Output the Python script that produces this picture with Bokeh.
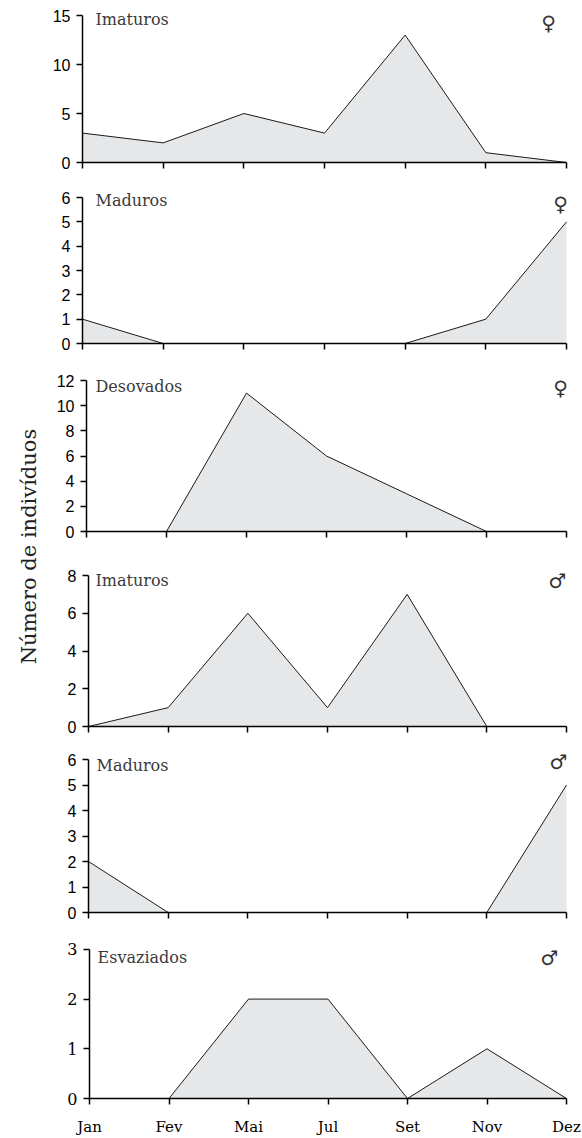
import math
from bokeh.plotting import figure
from bokeh.layouts import column, row
from bokeh.models import Range1d, FixedTicker, Label, Spacer
from bokeh.embed import file_html
from bokeh.resources import INLINE

# ---- data ----
months = ["Jan", "Fev", "Mai", "Jul", "Set", "Nov", "Dez"]
femea_imaturos = [3, 2, 5, 3, 13, 1, 0]
femea_maduros = [1, 0, 0, 0, 0, 1, 5]
femea_desovados = [0, 0, 11, 6, 3, 0, 0]
macho_imaturos = [0, 1, 6, 1, 7, 0, 0]
macho_maduros = [2, 0, 0, 0, 0, 0, 5]
macho_esvaziados = [0, 0, 2, 2, 0, 1, 0]

panel_titles = ["Imaturos", "Maduros", "Desovados", "Imaturos", "Maduros", "Esvaziados"]
panel_symbols = ["\u2640", "\u2640", "\u2640", "\u2642", "\u2642", "\u2642"]
panel_series = [femea_imaturos, femea_maduros, femea_desovados,
                macho_imaturos, macho_maduros, macho_esvaziados]
y_max = [15, 6, 12, 8, 6, 3]
y_ticks = [[0, 5, 10, 15], [0, 1, 2, 3, 4, 5, 6], [0, 2, 4, 6, 8, 10, 12],
           [0, 2, 4, 6, 8], [0, 1, 2, 3, 4, 5, 6], [0, 1, 2, 3]]
y_label = "Número de indivíduos"

# ---- layout (pixels) ----
WIN_W, WIN_H = 582, 1138
LW = 40                      # width of the strip holding the shared y label
BL = 42                      # common left border inside each panel
fig_top = [0, 178, 360, 555, 742, 930]
fig_bot = [178, 360, 555, 742, 930, 1138]
T = [15, 197, 380, 575, 759, 949]      # pixel of y max
B = [162, 343, 531, 726, 912, 1099]    # pixel of y = 0
L = [82, 82, 86, 88, 88, 89]           # pixel of first month
R = 566                                # pixel of last month
title_px = [(95, 19), (95, 200), (95, 386), (95, 580), (96, 765), (97, 957)]
sym_px = [(548, 22), (560, 203), (560, 387), (557, 580), (558, 761), (549, 958)]

FILL = "#e6e7e8"
SERIF = "DejaVu Serif"
SANS = "Liberation Sans"

x_idx = list(range(len(months)))
nx = len(months) - 1
rows = []
for i in range(6):
    last = (i == 5)
    d = L[i] - (LW + BL)
    fw = WIN_W - LW - d
    fh = fig_bot[i] - fig_top[i]
    x_end = nx * (WIN_W - L[i]) / (R - L[i])
    y_end = y_max[i] * (B[i] - fig_top[i]) / (B[i] - T[i])
    p = figure(width=fw, height=fh, output_backend="svg", toolbar_location=None,
               x_range=Range1d(0, x_end), y_range=Range1d(0, y_end),
               min_border_top=0, min_border_bottom=fig_bot[i] - B[i],
               min_border_left=BL, min_border_right=0)
    p.outline_line_color = None
    p.grid.visible = False
    p.background_fill_color = "white"
    p.border_fill_color = "white"

    ys = panel_series[i]
    p.varea(x=x_idx, y1=[0] * len(ys), y2=ys, fill_color=FILL)
    p.line(x=x_idx, y=ys, line_color="#1a1a1a", line_width=1)

    for ax in (p.xaxis[0], p.yaxis[0]):
        ax.axis_line_color = "black"
        ax.axis_line_width = 1.5
        ax.major_tick_line_color = "black"
        ax.major_tick_line_width = 1.5
        ax.major_tick_out = 6
        ax.major_tick_in = 0
        ax.minor_tick_line_color = None
    p.xaxis.bounds = (0, nx)
    p.yaxis.bounds = (0, y_max[i])

    p.xaxis.ticker = FixedTicker(ticks=x_idx)
    if last:
        p.xaxis.major_label_overrides = {k: m for k, m in enumerate(months)}
        p.xaxis.major_label_text_font = SERIF
        p.xaxis.major_label_text_font_size = "15px"
        p.xaxis.major_label_standoff = 13
        p.yaxis.major_label_text_font = SERIF
    else:
        p.xaxis.major_label_overrides = {k: "" for k in x_idx}
        p.xaxis.major_label_text_font_size = "1px"
        p.yaxis.major_label_text_font = SANS
    p.xaxis.major_label_text_color = "black"
    p.yaxis.ticker = FixedTicker(ticks=y_ticks[i])
    p.yaxis.major_label_text_font_size = "16px"
    p.yaxis.major_label_text_color = "black"
    p.yaxis.major_label_standoff = 6

    def to_data(px, py, i=i):
        return ((px - L[i]) / (R - L[i]) * nx,
                (B[i] - py) / (B[i] - T[i]) * y_max[i])

    tx, ty = to_data(*title_px[i])
    p.add_layout(Label(x=tx, y=ty, text=panel_titles[i], text_font=SERIF,
                       text_font_size="16px", text_color="#3a3a3a",
                       text_align="left", text_baseline="middle"))
    sx, sy = to_data(*sym_px[i])
    p.add_layout(Label(x=sx, y=sy, text=panel_symbols[i], text_font="DejaVu Sans",
                       text_font_size="20px", text_color="#333333",
                       text_align="center", text_baseline="middle"))
    if d > 0:
        rows.append(row(Spacer(width=d, height=fh), p, spacing=0))
    else:
        rows.append(p)

lab = figure(width=LW, height=WIN_H, output_backend="svg", toolbar_location=None,
             x_range=Range1d(0, LW), y_range=Range1d(0, WIN_H),
             min_border_left=0, min_border_right=0,
             min_border_top=0, min_border_bottom=0)
lab.axis.visible = False
lab.grid.visible = False
lab.outline_line_color = None
lab.add_layout(Label(x=28, y=WIN_H - 546, text=y_label, angle=math.pi / 2,
                     text_font=SERIF, text_font_size="21px", text_color="#222222",
                     text_align="center", text_baseline="middle"))

layout = row(lab, column(*rows, spacing=0), spacing=0)
open("out.html", "w").write(file_html(layout, INLINE))
